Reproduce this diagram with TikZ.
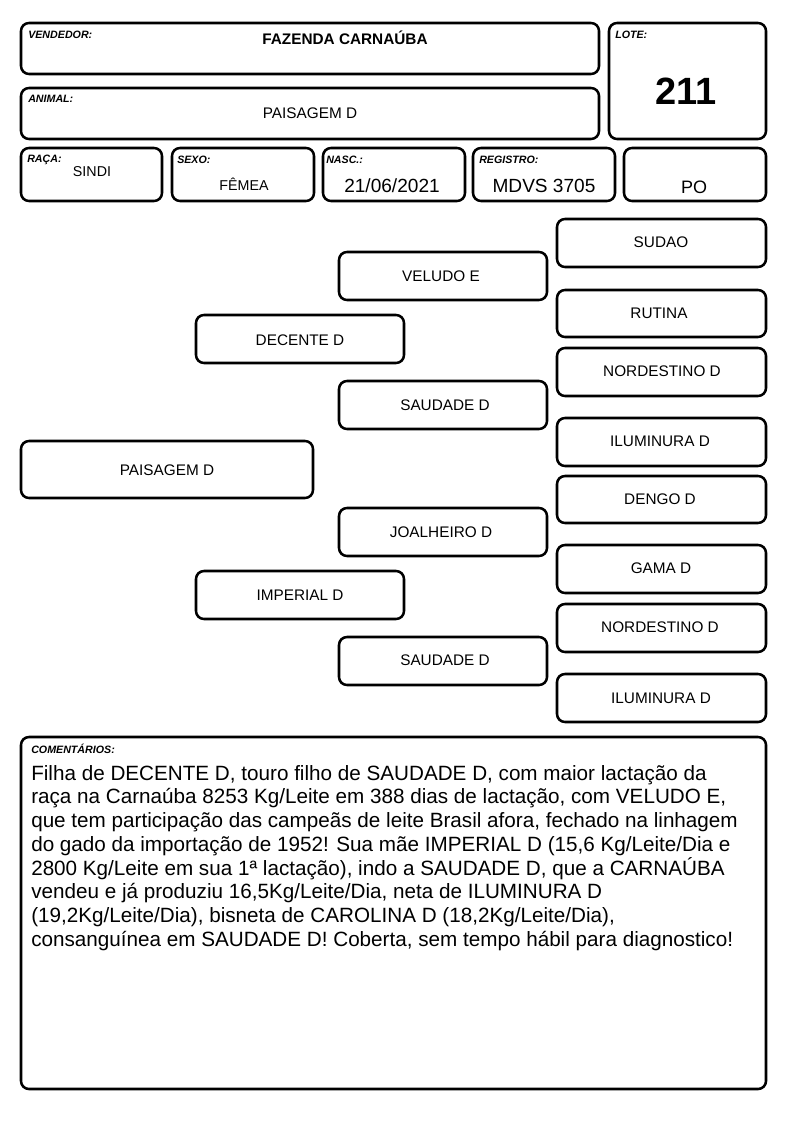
\documentclass[tikz,border=0pt]{standalone}
\usepackage{fontspec}
\setmainfont{Liberation Sans}
\begin{document}
\begin{tikzpicture}[x=0.75pt,y=-0.75pt,
  box/.style={draw=black,line width=1.9pt,rounded corners=6pt},
  lbl/.style={anchor=north west,inner sep=0pt,font=\fontsize{8}{9}\selectfont\bfseries\itshape},
  val/.style={inner sep=0pt,anchor=center},
  ped/.style={inner sep=0pt,anchor=center,font=\fontsize{11.5}{13}\selectfont}]
\useasboundingbox[fill=white] (0,0) rectangle (794,1123);
% header boxes
\draw[box] (21,23) rectangle (599,74);
\draw[box] (609,23) rectangle (766,139);
\draw[box] (21,88) rectangle (599,139);
\draw[box] (21,148) rectangle (162,201);
\draw[box] (172,148) rectangle (314,201);
\draw[box] (323,148) rectangle (465,201);
\draw[box] (473,148) rectangle (615,201);
\draw[box] (624,148) rectangle (766,201);
\node[lbl] (lv) at (28,31) {VENDEDOR:};
\node[lbl] (ll) at (615,31) {LOTE:};
\node[lbl] (la) at (28,95) {ANIMAL:};
\node[lbl] (lr) at (27,155) {RAÇA:};
\node[lbl] (ls) at (177,156) {SEXO:};
\node[lbl] (ln) at (326,156) {NASC.:};
\node[lbl] (lg) at (479,156) {REGISTRO:};
\node[val,font=\fontsize{11.5}{13}\selectfont\bfseries] (vv) at (345,38) {FAZENDA CARNAÚBA};
\node[val,font=\fontsize{28.5}{30}\selectfont\bfseries] (vl) at (686,91) {211};
\node[val,font=\fontsize{11.5}{13}\selectfont] (va) at (310,113) {PAISAGEM D};
\node[val,font=\fontsize{10.7}{12}\selectfont] (vr) at (92,172) {SINDI};
\node[val,font=\fontsize{10.7}{12}\selectfont] (vs) at (244,184) {FÊMEA};
\node[val,font=\fontsize{14.3}{16}\selectfont] (vn) at (392,186) {21/06/2021};
\node[val,font=\fontsize{14.3}{16}\selectfont] (vg) at (544,186) {MDVS 3705};
\node[val,font=\fontsize{13.5}{15}\selectfont] (vp) at (694,187) {PO};
% pedigree
\draw[box] (21,441) rectangle (313,498);
\node[ped] (p0) at (167,470) {PAISAGEM D};
\draw[box] (196,315) rectangle (404,363);
\node[ped] (p1) at (300,340) {DECENTE D};
\draw[box] (196,571) rectangle (404,619);
\node[ped] (p2) at (300,595) {IMPERIAL D};
\draw[box] (339,252) rectangle (547,300);
\node[ped] (p3) at (441,276) {VELUDO E};
\draw[box] (339,381) rectangle (547,429);
\node[ped] (p4) at (445,405) {SAUDADE D};
\draw[box] (339,508) rectangle (547,556);
\node[ped] (p5) at (441,532) {JOALHEIRO D};
\draw[box] (339,637) rectangle (547,685);
\node[ped] (p6) at (445,660) {SAUDADE D};
\draw[box] (557,219) rectangle (766,267);
\node[ped] (g1) at (661,242) {SUDAO};
\draw[box] (557,290) rectangle (766,337);
\node[ped] (g2) at (659,313) {RUTINA};
\draw[box] (557,348) rectangle (766,396);
\node[ped] (g3) at (662,371) {NORDESTINO D};
\draw[box] (557,418) rectangle (766,466);
\node[ped] (g4) at (660,441) {ILUMINURA D};
\draw[box] (557,476) rectangle (766,523);
\node[ped] (g5) at (660,499) {DENGO D};
\draw[box] (557,545) rectangle (766,593);
\node[ped] (g6) at (661,568) {GAMA D};
\draw[box] (557,604) rectangle (766,652);
\node[ped] (g7) at (660,627) {NORDESTINO D};
\draw[box] (557,674) rectangle (766,722);
\node[ped] (g8) at (661,698) {ILUMINURA D};
% comments
\draw[box] (21,737) rectangle (766,1089);
\node[lbl] (lc) at (31,744) {COMENTÁRIOS:};
\node[inner sep=0pt,anchor=north west,align=left,font=\fontsize{15.5}{17.8}\selectfont] (ct) at (31,765) {Filha de DECENTE D, touro filho de SAUDADE D, com maior lactação da\\
raça na Carnaúba 8253 Kg/Leite em 388 dias de lactação, com VELUDO E,\\
que tem participação das campeãs de leite Brasil afora, fechado na linhagem\\
do gado da importação de 1952! Sua mãe IMPERIAL D (15,6 Kg/Leite/Dia e\\
2800 Kg/Leite em sua 1ª lactação), indo a SAUDADE D, que a CARNAÚBA\\
vendeu e já produziu 16,5Kg/Leite/Dia, neta de ILUMINURA D\\
(19,2Kg/Leite/Dia), bisneta de CAROLINA D (18,2Kg/Leite/Dia),\\
consanguínea em SAUDADE D! Coberta, sem tempo hábil para diagnostico!};
\end{tikzpicture}
\end{document}
